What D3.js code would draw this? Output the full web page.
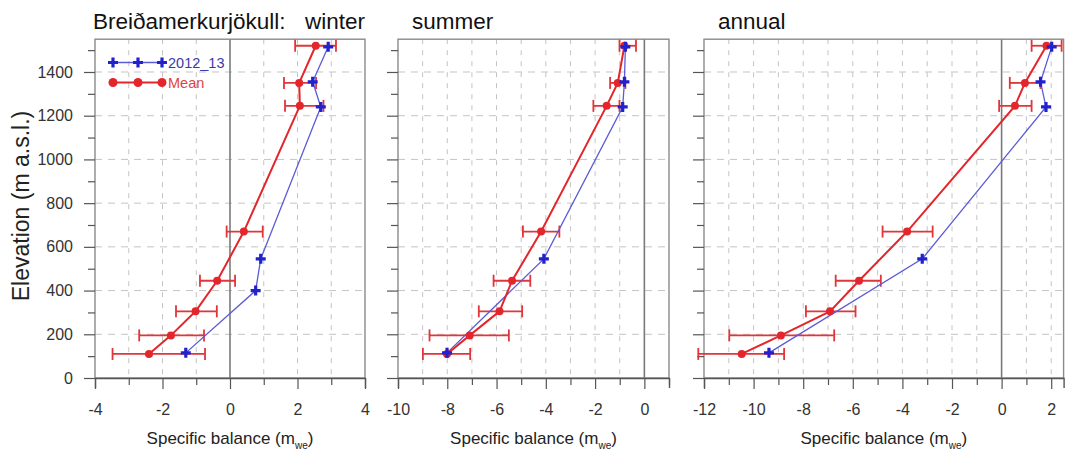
<!DOCTYPE html>
<html><head><meta charset="utf-8">
<script src="https://cdn.jsdelivr.net/npm/d3@7"></script>
<style>body{margin:0;background:#fff;} svg{display:block;font-family:"Liberation Sans",Arial,sans-serif;}</style>
</head><body>
<svg id="c" width="1069" height="451"></svg>
<script>
// ---- data ----
const elevMean   = [110, 195, 305, 445, 670, 1245, 1350, 1520];
const winterMean = [-2.40, -1.75, -1.02, -0.38, 0.41, 2.07, 2.05, 2.54];
const winterLo   = [-3.48, -2.69, -1.60, -0.89, -0.10, 1.63, 1.60, 1.93];
const winterHi   = [-0.74, -0.77, -0.39, 0.15, 0.97, 2.77, 2.55, 3.14];
const summerMean = [-8.01, -7.09, -5.88, -5.37, -4.19, -1.53, -1.08, -0.81];
const summerLo   = [-8.99, -8.72, -6.72, -6.12, -4.93, -2.07, -1.39, -1.01];
const summerHi   = [-7.07, -5.50, -4.96, -4.63, -3.45, -1.01, -0.77, -0.34];
const annualMean = [-10.48, -8.90, -6.92, -5.75, -3.81, 0.54, 0.94, 1.81];
const annualLo   = [-12.23, -10.98, -7.89, -6.69, -4.80, -0.10, 0.33, 1.21];
const annualHi   = [-8.77, -6.75, -5.89, -4.87, -2.78, 1.21, 1.57, 2.42];

const elev2013   = [115, 400, 545, 1240, 1355, 1515];
const winter2013 = [-1.31, 0.76, 0.91, 2.69, 2.45, 2.91];
const summer2013 = [-8.01, null, -4.08, -0.88, -0.81, -0.77];
const annual2013 = [-9.38, null, -3.20, 1.79, 1.57, 2.02];

const yTicks = [0, 200, 400, 600, 800, 1000, 1200, 1400];
const seriesNames = ["2012_13", "Mean"];
const panelTitles = ["Breiðamerkurjökull:  winter", "summer", "annual"];
const xDomains = [[-4, 4], [-10, 1], [-12, 2.5]];
const xLabelTicks = [[-4, -2, 0, 2, 4], [-10, -8, -6, -4, -2, 0], [-12, -10, -8, -6, -4, -2, 0, 2]];

// ---- layout ----
const svg = d3.select("#c");
const plotBottom = 378;
const y = d3.scaleLinear().domain([0, 1550]).range([plotBottom, 39.2]);
const panels = [
  {x0: 95, x1: 365, tx: 93, mean: winterMean, lo: winterLo, hi: winterHi, b: winter2013},
  {x0: 398, x1: 669, tx: 412, mean: summerMean, lo: summerLo, hi: summerHi, b: summer2013},
  {x0: 704, x1: 1063.6, tx: 718, mean: annualMean, lo: annualLo, hi: annualHi, b: annual2013}
];
const RED = "#e3262c", BLUE = "#2222cc", BLUEL = "#5b5bd6";
const TICKFONT = 16;

panels.forEach((p, i) => {
  const x = d3.scaleLinear().domain(xDomains[i]).range([p.x0, p.x1]);
  const g = svg.append("g");
  const yT = y.range()[1];
  const units = d3.range(Math.ceil(xDomains[i][0]), Math.floor(xDomains[i][1]) + 1);
  // grid vertical
  g.selectAll(".vg").data(units.filter(u => u !== 0 && x(u) > p.x0 + 1 && x(u) < p.x1 - 1)).join("line")
    .attr("x1", d => x(d)).attr("x2", d => x(d)).attr("y1", yT).attr("y2", plotBottom)
    .attr("stroke", "#c4c4c4").attr("stroke-width", 1).attr("stroke-dasharray", "5,6");
  // grid horizontal
  g.selectAll(".hg").data(yTicks.filter(t => t > 0)).join("line")
    .attr("x1", p.x0).attr("x2", p.x1).attr("y1", d => y(d)).attr("y2", d => y(d))
    .attr("stroke", "#c4c4c4").attr("stroke-width", 1).attr("stroke-dasharray", "7,6");
  // zero line
  g.append("line").attr("x1", x(0)).attr("x2", x(0)).attr("y1", yT).attr("y2", plotBottom)
    .attr("stroke", "#7a7a7a").attr("stroke-width", 1.6);
  // frame
  g.append("rect").attr("x", p.x0).attr("y", yT).attr("width", p.x1 - p.x0).attr("height", plotBottom - yT)
    .attr("fill", "none").attr("stroke", "#8a8a8a").attr("stroke-width", 1.4);
  // x axis
  const xAxis = d3.axisBottom(x).tickValues(units).tickSize(10).tickFormat(d => xLabelTicks[i].includes(d) ? d : "");
  const xa = g.append("g").attr("transform", `translate(0,${plotBottom})`).call(xAxis);
  xa.select(".domain").attr("stroke", "#555").attr("stroke-width", 1.4);
  xa.selectAll(".tick line").attr("stroke", "#555").attr("stroke-width", 1.2)
    .attr("y2", d => xLabelTicks[i].includes(d) ? 11 : 7);
  xa.selectAll(".tick text").attr("font-size", TICKFONT).attr("fill", "#333").attr("y", 26)
    .attr("font-family", "Liberation Sans, Arial, sans-serif");
  // y axis
  const yAxis = d3.axisLeft(y).tickValues(d3.range(0, 1501, 100)).tickSize(10)
    .tickFormat(d => (i === 0 && d % 200 === 0) ? d : "");
  const ya = g.append("g").attr("transform", `translate(${p.x0},0)`).call(yAxis);
  ya.select(".domain").remove();
  ya.selectAll(".tick line").attr("stroke", "#555").attr("stroke-width", 1.2)
    .attr("x2", d => d % 200 === 0 ? -11 : -7);
  ya.selectAll(".tick text").attr("font-size", TICKFONT).attr("fill", "#333").attr("x", -22)
    .attr("font-family", "Liberation Sans, Arial, sans-serif");

  // title
  const parts = panelTitles[i].split("  ");
  const tt = svg.append("text").attr("x", p.tx).attr("y", 29).attr("font-size", 22.5).attr("fill", "#111");
  tt.append("tspan").text(parts[0]);
  if (parts.length > 1) tt.append("tspan").attr("x", 305).text(parts[1]);
  // x label
  const xl = svg.append("text").attr("x", (p.x0 + p.x1) / 2).attr("y", 444)
    .attr("text-anchor", "middle").attr("font-size", 17).attr("fill", "#222");
  xl.append("tspan").text("Specific balance (m");
  xl.append("tspan").attr("font-size", 10).attr("dy", 5).text("we");
  xl.append("tspan").attr("dy", -5).text(")");

  // mean error bars
  const idx = d3.range(elevMean.length);
  const eb = g.append("g").attr("stroke", "#e0353a").attr("stroke-width", 1.8);
  eb.selectAll(".e").data(idx).join("line")
    .attr("x1", k => x(p.lo[k])).attr("x2", k => x(p.hi[k]))
    .attr("y1", k => y(elevMean[k])).attr("y2", k => y(elevMean[k]));
  eb.selectAll(".cl").data(idx).join("line")
    .attr("x1", k => x(p.lo[k])).attr("x2", k => x(p.lo[k]))
    .attr("y1", k => y(elevMean[k]) - 6).attr("y2", k => y(elevMean[k]) + 6);
  eb.selectAll(".ch").data(idx).join("line")
    .attr("x1", k => x(p.hi[k])).attr("x2", k => x(p.hi[k]))
    .attr("y1", k => y(elevMean[k]) - 6).attr("y2", k => y(elevMean[k]) + 6);

  // blue line
  const bpts = elev2013.map((e, k) => [p.b[k], e]).filter(d => d[0] !== null);
  const line = d3.line().x(d => x(d[0])).y(d => y(d[1]));
  g.append("path").attr("d", line(bpts)).attr("fill", "none").attr("stroke", BLUEL).attr("stroke-width", 1.3);
  // red line
  const rpts = elevMean.map((e, k) => [p.mean[k], e]);
  g.append("path").attr("d", line(rpts)).attr("fill", "none").attr("stroke", RED).attr("stroke-width", 2);
  // red markers
  g.selectAll(".rm").data(rpts).join("circle").attr("cx", d => x(d[0])).attr("cy", d => y(d[1]))
    .attr("r", 4).attr("fill", RED);
  // blue markers (plus)
  g.selectAll(".bm").data(bpts).join("path")
    .attr("d", d => `M${x(d[0]) - 5},${y(d[1])}h10M${x(d[0])},${y(d[1]) - 5}v10`)
    .attr("stroke", BLUE).attr("stroke-width", 3.2);
});

// y axis title
svg.append("text").attr("transform", "translate(29,206) rotate(-90)").attr("text-anchor", "middle")
  .attr("font-size", 23).attr("fill", "#222").text("Elevation (m a.s.l.)");

// legend
const lg = svg.append("g");
const lx = [113, 138, 162];
lg.append("line").attr("x1", 113).attr("x2", 162).attr("y1", 62.5).attr("y2", 62.5).attr("stroke", BLUEL).attr("stroke-width", 1.3);
lg.selectAll(".lb").data(lx).join("path").attr("d", d => `M${d - 5},62.5h10M${d},57.5v10`).attr("stroke", BLUE).attr("stroke-width", 3.2);
lg.append("text").attr("x", 168).attr("y", 68).attr("font-size", 14.5).attr("fill", "#3a3aaa").text(seriesNames[0]);
lg.append("line").attr("x1", 113).attr("x2", 162).attr("y1", 82.5).attr("y2", 82.5).attr("stroke", RED).attr("stroke-width", 2);
lg.selectAll(".lr").data(lx).join("circle").attr("cx", d => d).attr("cy", 82.5).attr("r", 4.5).attr("fill", RED);
lg.append("text").attr("x", 168).attr("y", 88).attr("font-size", 14.5).attr("fill", "#dd4444").text(seriesNames[1]);
</script>
</body></html>
